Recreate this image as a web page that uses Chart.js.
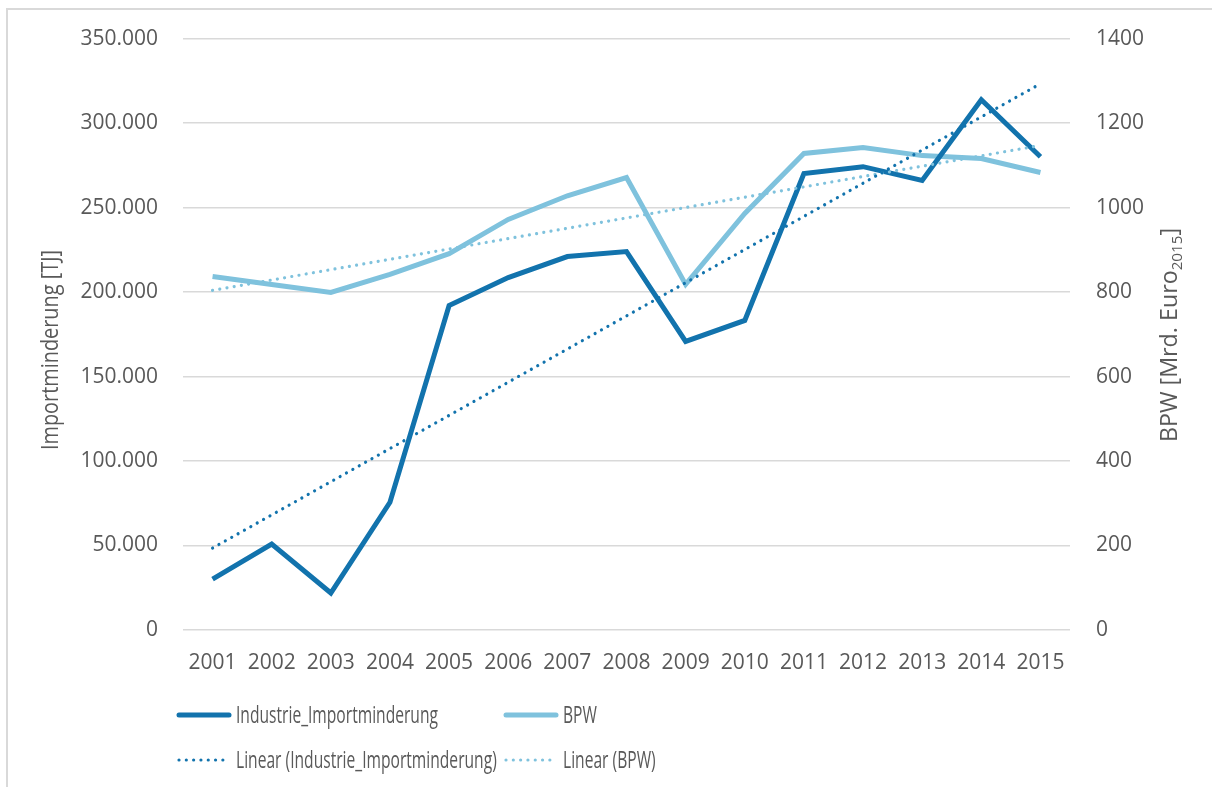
<!DOCTYPE html>
<html>
<head>
<meta charset="utf-8">
<script src="https://cdn.jsdelivr.net/npm/chart.js@4.4.0/dist/chart.umd.min.js"></script>
<style>
  html, body { margin: 0; padding: 0; background: #fff; }
  #wrap { width: 1212px; height: 787px; position: relative; }
</style>
</head>
<body>
<div id="wrap"><canvas id="chart" width="1212" height="787"></canvas></div>
<script>
// Data
const years = ['2001','2002','2003','2004','2005','2006','2007','2008','2009','2010','2011','2012','2013','2014','2015'];
const importminderung = [30100, 50800, 21900, 75600, 192000, 208600, 221000, 224000, 170800, 183200, 270100, 274200, 266000, 313800, 280100];
const bpw = [837, 818, 799, 842, 891, 972, 1028, 1071, 818, 986, 1128, 1142, 1123, 1116, 1083];
// Trend line ends (Excel "Linear" trendlines), read at first and last year
const trendImportEnds = [48500, 323300];
const trendBpwEnds = [804, 1147];

const darkBlue = '#1273ad';
const lightBlue = '#7fc2dd';
const textColor = '#595959';
const gridColor = '#d9d9d9';
const fontFamily = '"Open Sans", "Noto Sans", sans-serif';

const fmtDE = v => v.toLocaleString('de-DE');

// draw text squeezed horizontally so it takes the given width (the original font is narrow)
function fitText(ctx, text, x, y, width) {
    const w = ctx.measureText(text).width;
    const k = width / w;
    ctx.save();
    ctx.translate(x, y);
    ctx.scale(k, 1);
    ctx.fillText(text, 0, 0);
    ctx.restore();
    return k;
}

// Frame, axis titles and legend
const decorPlugin = {
    id: 'decor',
    beforeDraw(chart) {
        const ctx = chart.ctx;
        ctx.save();
        ctx.strokeStyle = gridColor;
        ctx.lineWidth = 2;
        ctx.strokeRect(7, 9, 1300, 900);
        ctx.restore();
    },
    afterDraw(chart) {
        const ctx = chart.ctx;

        ctx.save();
        ctx.fillStyle = textColor;
        ctx.font = '23px ' + fontFamily;
        ctx.textBaseline = 'alphabetic';
        ctx.textAlign = 'left';

        // left title
        ctx.save();
        ctx.translate(58, 450);
        ctx.rotate(-Math.PI / 2);
        fitText(ctx, 'Importminderung [TJ]', 0, 0, 200);
        ctx.restore();

        // right title with subscript
        ctx.save();
        const main = 'BPW [Mrd. Euro';
        const sub = '2015';
        ctx.font = '23px ' + fontFamily;
        const wMain = ctx.measureText(main).width;
        const wClose = ctx.measureText(']').width;
        ctx.font = '15px ' + fontFamily;
        const wSub = ctx.measureText(sub).width;
        const total = wMain + wSub + wClose;
        ctx.translate(1177, 442);
        ctx.rotate(-Math.PI / 2);
        ctx.scale(214 / total, 1);
        let x = 0;
        ctx.font = '23px ' + fontFamily;
        ctx.fillText(main, x, 0);
        x += wMain;
        ctx.font = '15px ' + fontFamily;
        ctx.fillText(sub, x, 5);
        x += wSub;
        ctx.font = '23px ' + fontFamily;
        ctx.fillText(']', x, 0);
        ctx.restore();

        // legend
        const items = [
            { ds: 0, x: 177, y: 715 },
            { ds: 1, x: 504, y: 715 },
            { ds: 2, x: 177, y: 760 },
            { ds: 3, x: 504, y: 760 }
        ];
        ctx.font = '23px ' + fontFamily;
        const k = 202 / ctx.measureText(chart.data.datasets[0].label).width;
        items.forEach(it => {
            const ds = chart.data.datasets[it.ds];
            ctx.save();
            ctx.strokeStyle = ds.borderColor;
            ctx.lineWidth = ds.borderWidth;
            ctx.lineCap = 'round';
            ctx.setLineDash(ds.borderDash || []);
            ctx.beginPath();
            ctx.moveTo(it.x + 2, it.y);
            ctx.lineTo(it.x + 52, it.y);
            ctx.stroke();
            ctx.restore();
            ctx.save();
            ctx.textBaseline = 'middle';
            ctx.translate(it.x + 59, it.y + 1);
            ctx.scale(k, 1);
            ctx.fillText(ds.label, 0, 0);
            ctx.restore();
        });
        ctx.restore();
    }
};

new Chart(document.getElementById('chart').getContext('2d'), {
    type: 'line',
    data: {
        labels: years,
        datasets: [
            {
                label: 'Industrie_Importminderung',
                data: importminderung,
                yAxisID: 'y',
                borderColor: darkBlue,
                borderWidth: 5,
                pointRadius: 0,
                tension: 0,
                order: 1
            },
            {
                label: 'BPW',
                data: bpw,
                yAxisID: 'y1',
                borderColor: lightBlue,
                borderWidth: 5,
                pointRadius: 0,
                tension: 0,
                order: 2
            },
            {
                label: 'Linear (Industrie_Importminderung)',
                data: [{ x: years[0], y: trendImportEnds[0] }, { x: years[years.length - 1], y: trendImportEnds[1] }],
                yAxisID: 'y',
                borderColor: darkBlue,
                borderWidth: 3.2,
                borderDash: [0.01, 7.3],
                borderCapStyle: 'round',
                pointRadius: 0,
                order: 0
            },
            {
                label: 'Linear (BPW)',
                data: [{ x: years[0], y: trendBpwEnds[0] }, { x: years[years.length - 1], y: trendBpwEnds[1] }],
                yAxisID: 'y1',
                borderColor: lightBlue,
                borderWidth: 3.2,
                borderDash: [0.01, 7.3],
                borderCapStyle: 'round',
                pointRadius: 0,
                order: 0
            }
        ]
    },
    options: {
        responsive: false,
        animation: false,
        layout: { padding: { top: 38, left: 0, right: 0, bottom: 0 } },
        plugins: {
            legend: { display: false },
            tooltip: { enabled: false }
        },
        scales: {
            x: {
                type: 'category',
                offset: true,
                grid: { display: false },
                border: { display: false },
                ticks: {
                    color: textColor,
                    font: { family: fontFamily, size: 21 },
                    padding: 12,
                    maxRotation: 0,
                    autoSkip: false
                },
                afterFit(scale) { scale.height = 157; }
            },
            y: {
                position: 'left',
                min: 0,
                max: 350000,
                grid: { color: gridColor, lineWidth: 1.5, drawTicks: false },
                border: { display: false },
                ticks: {
                    stepSize: 50000,
                    color: textColor,
                    font: { family: fontFamily, size: 21 },
                    padding: 25,
                    callback: v => fmtDE(v)
                },
                afterFit(scale) { scale.width = 183; }
            },
            y1: {
                position: 'right',
                min: 0,
                max: 1400,
                grid: { display: false, drawTicks: false },
                border: { display: false },
                ticks: {
                    stepSize: 200,
                    color: textColor,
                    font: { family: fontFamily, size: 21 },
                    padding: 26,
                    callback: v => String(v)
                },
                afterFit(scale) { scale.width = 142; }
            }
        }
    },
    plugins: [decorPlugin]
});
</script>
</body>
</html>
